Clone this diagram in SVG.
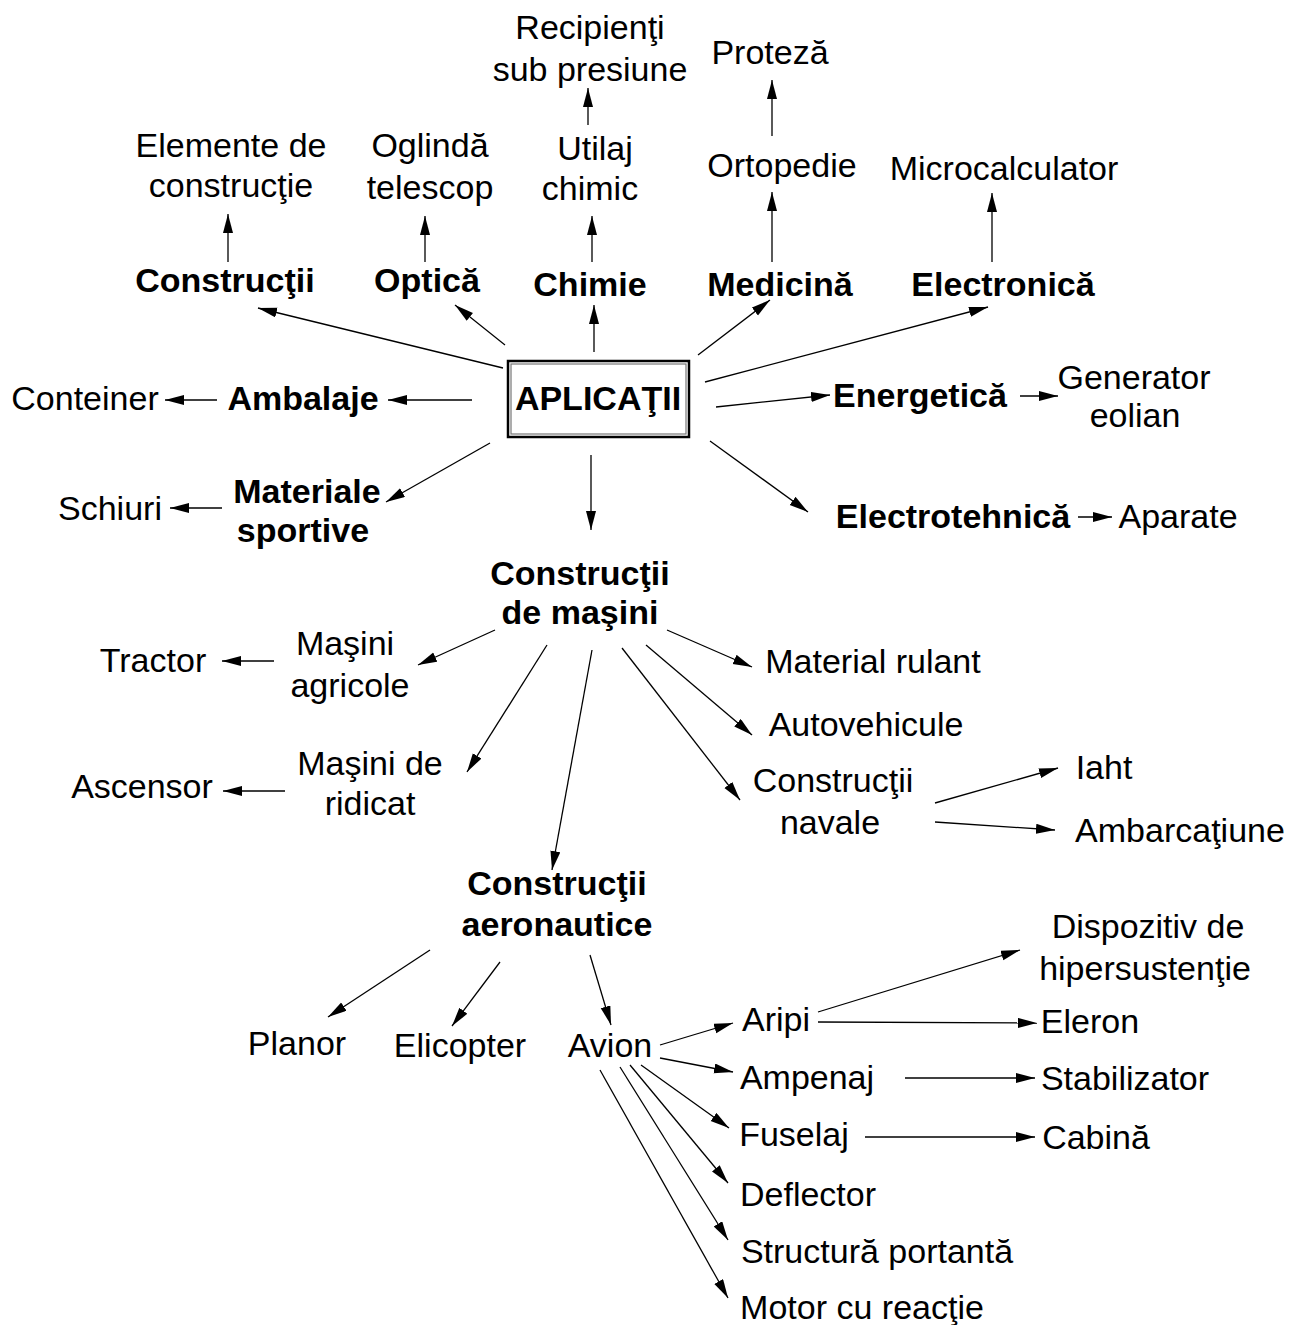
<svg xmlns="http://www.w3.org/2000/svg" width="1290" height="1325" viewBox="0 0 1290 1325">
<style>
text{font-family:"Liberation Sans",Arial,sans-serif;font-size:34px;text-anchor:middle;fill:#000}
.b{font-weight:bold}
#connectors line{stroke:#000;stroke-width:1.3;marker-end:url(#ah)}
</style>
<defs>
<marker id="ah" markerUnits="userSpaceOnUse" markerWidth="20" markerHeight="12" refX="19" refY="5" orient="auto">
<path d="M0,0 L19,5 L0,10 Z" fill="#000"/>
</marker>
</defs>
<rect width="1290" height="1325" fill="#fff"/>
<g id="connectors">
<line x1="228" y1="262" x2="228" y2="214"/>
<line x1="425" y1="262" x2="425" y2="216"/>
<line x1="592" y1="262" x2="592" y2="216"/>
<line x1="588" y1="125" x2="588" y2="88"/>
<line x1="772" y1="262" x2="772" y2="192"/>
<line x1="772" y1="136" x2="772" y2="80"/>
<line x1="992" y1="262" x2="992" y2="193"/>
<line x1="503" y1="368" x2="258" y2="308"/>
<line x1="505" y1="345" x2="455" y2="305"/>
<line x1="594" y1="352" x2="594" y2="305"/>
<line x1="698" y1="355" x2="770" y2="300"/>
<line x1="705" y1="382" x2="988" y2="307"/>
<line x1="472" y1="400" x2="388" y2="400"/>
<line x1="217" y1="400" x2="165" y2="400"/>
<line x1="716" y1="407" x2="830" y2="395"/>
<line x1="1020" y1="396" x2="1058" y2="396"/>
<line x1="490" y1="443" x2="386" y2="502"/>
<line x1="222" y1="508" x2="170" y2="508"/>
<line x1="710" y1="441" x2="808" y2="512"/>
<line x1="1078" y1="517" x2="1112" y2="517"/>
<line x1="591" y1="455" x2="591" y2="530"/>
<line x1="495" y1="630" x2="418" y2="665"/>
<line x1="274" y1="661" x2="222" y2="661"/>
<line x1="547" y1="645" x2="467" y2="772"/>
<line x1="285" y1="791" x2="223" y2="791"/>
<line x1="592" y1="650" x2="552" y2="870"/>
<line x1="667" y1="630" x2="752" y2="667"/>
<line x1="646" y1="645" x2="752" y2="735"/>
<line x1="622" y1="648" x2="740" y2="800"/>
<line x1="935" y1="803" x2="1058" y2="768"/>
<line x1="935" y1="822" x2="1055" y2="830"/>
<line x1="430" y1="950" x2="328" y2="1017"/>
<line x1="500" y1="962" x2="452" y2="1026"/>
<line x1="590" y1="955" x2="611" y2="1025"/>
<line x1="660" y1="1045" x2="733" y2="1023"/>
<line x1="660" y1="1058" x2="733" y2="1072"/>
<line x1="641" y1="1065" x2="729" y2="1128"/>
<line x1="630" y1="1065" x2="728" y2="1183"/>
<line x1="620" y1="1067" x2="728" y2="1240"/>
<line x1="600" y1="1070" x2="728" y2="1298"/>
<line x1="818" y1="1012" x2="1020" y2="950"/>
<line x1="818" y1="1022" x2="1037" y2="1023"/>
<line x1="905" y1="1078" x2="1035" y2="1078"/>
<line x1="865" y1="1137" x2="1035" y2="1137"/>
</g>
<g id="aplicatii">
<rect x="508" y="361" width="181" height="76" fill="#fff" stroke="#000" stroke-width="2.5"/>
<rect x="511" y="364" width="175" height="70" fill="none" stroke="#777" stroke-width="1.2"/>
<text class="b" x="598" y="410">APLICAŢII</text>
</g>
<g id="recipienti"><text x="590" y="39">Recipienţi</text><text x="590" y="81">sub presiune</text></g>
<g id="proteza"><text x="770" y="64">Proteză</text></g>
<g id="elemente"><text x="231" y="157">Elemente de</text><text x="231" y="197">construcţie</text></g>
<g id="oglinda"><text x="430" y="157">Oglindă</text><text x="430" y="199">telescop</text></g>
<g id="utilaj"><text x="595" y="160">Utilaj</text><text x="590" y="200">chimic</text></g>
<g id="ortopedie"><text x="782" y="177">Ortopedie</text></g>
<g id="microcalculator"><text x="1004" y="180">Microcalculator</text></g>
<g id="constructii"><text class="b" x="225" y="292">Construcţii</text></g>
<g id="optica"><text class="b" x="427" y="292">Optică</text></g>
<g id="chimie"><text class="b" x="590" y="296">Chimie</text></g>
<g id="medicina"><text class="b" x="780" y="296">Medicină</text></g>
<g id="electronica"><text class="b" x="1003" y="296">Electronică</text></g>
<g id="conteiner"><text x="85" y="410">Conteiner</text></g>
<g id="ambalaje"><text class="b" x="303" y="410">Ambalaje</text></g>
<g id="energetica"><text class="b" x="920" y="407">Energetică</text></g>
<g id="generator"><text x="1134" y="389">Generator</text><text x="1135" y="427">eolian</text></g>
<g id="schiuri"><text x="110" y="520">Schiuri</text></g>
<g id="materiale"><text class="b" x="307" y="503">Materiale</text><text class="b" x="303" y="542">sportive</text></g>
<g id="electrotehnica"><text class="b" x="953" y="528">Electrotehnică</text></g>
<g id="aparate"><text x="1178" y="528">Aparate</text></g>
<g id="masini"><text class="b" x="580" y="585">Construcţii</text><text class="b" x="580" y="624">de maşini</text></g>
<g id="agricole"><text x="345" y="655">Maşini</text><text x="350" y="697">agricole</text></g>
<g id="tractor"><text x="153" y="672">Tractor</text></g>
<g id="rulant"><text x="873" y="673">Material rulant</text></g>
<g id="autovehicule"><text x="866" y="736">Autovehicule</text></g>
<g id="ridicat"><text x="370" y="775">Maşini de</text><text x="370" y="815">ridicat</text></g>
<g id="ascensor"><text x="142" y="798">Ascensor</text></g>
<g id="navale"><text x="833" y="792">Construcţii</text><text x="830" y="834">navale</text></g>
<g id="iaht"><text x="1104" y="779">Iaht</text></g>
<g id="ambarcatiune"><text x="1180" y="842">Ambarcaţiune</text></g>
<g id="aeronautice"><text class="b" x="557" y="895">Construcţii</text><text class="b" x="557" y="936">aeronautice</text></g>
<g id="dispozitiv"><text x="1148" y="938">Dispozitiv de</text><text x="1145" y="980">hipersustenţie</text></g>
<g id="aripi"><text x="776" y="1031">Aripi</text></g>
<g id="eleron"><text x="1090" y="1033">Eleron</text></g>
<g id="planor"><text x="297" y="1055">Planor</text></g>
<g id="elicopter"><text x="460" y="1057">Elicopter</text></g>
<g id="avion"><text x="610" y="1057">Avion</text></g>
<g id="ampenaj"><text x="807" y="1089">Ampenaj</text></g>
<g id="stabilizator"><text x="1125" y="1090">Stabilizator</text></g>
<g id="fuselaj"><text x="794" y="1146">Fuselaj</text></g>
<g id="cabina"><text x="1096" y="1149">Cabină</text></g>
<g id="deflector"><text x="808" y="1206">Deflector</text></g>
<g id="structura"><text x="877" y="1263">Structură portantă</text></g>
<g id="motor"><text x="862" y="1319">Motor cu reacţie</text></g>
</svg>
